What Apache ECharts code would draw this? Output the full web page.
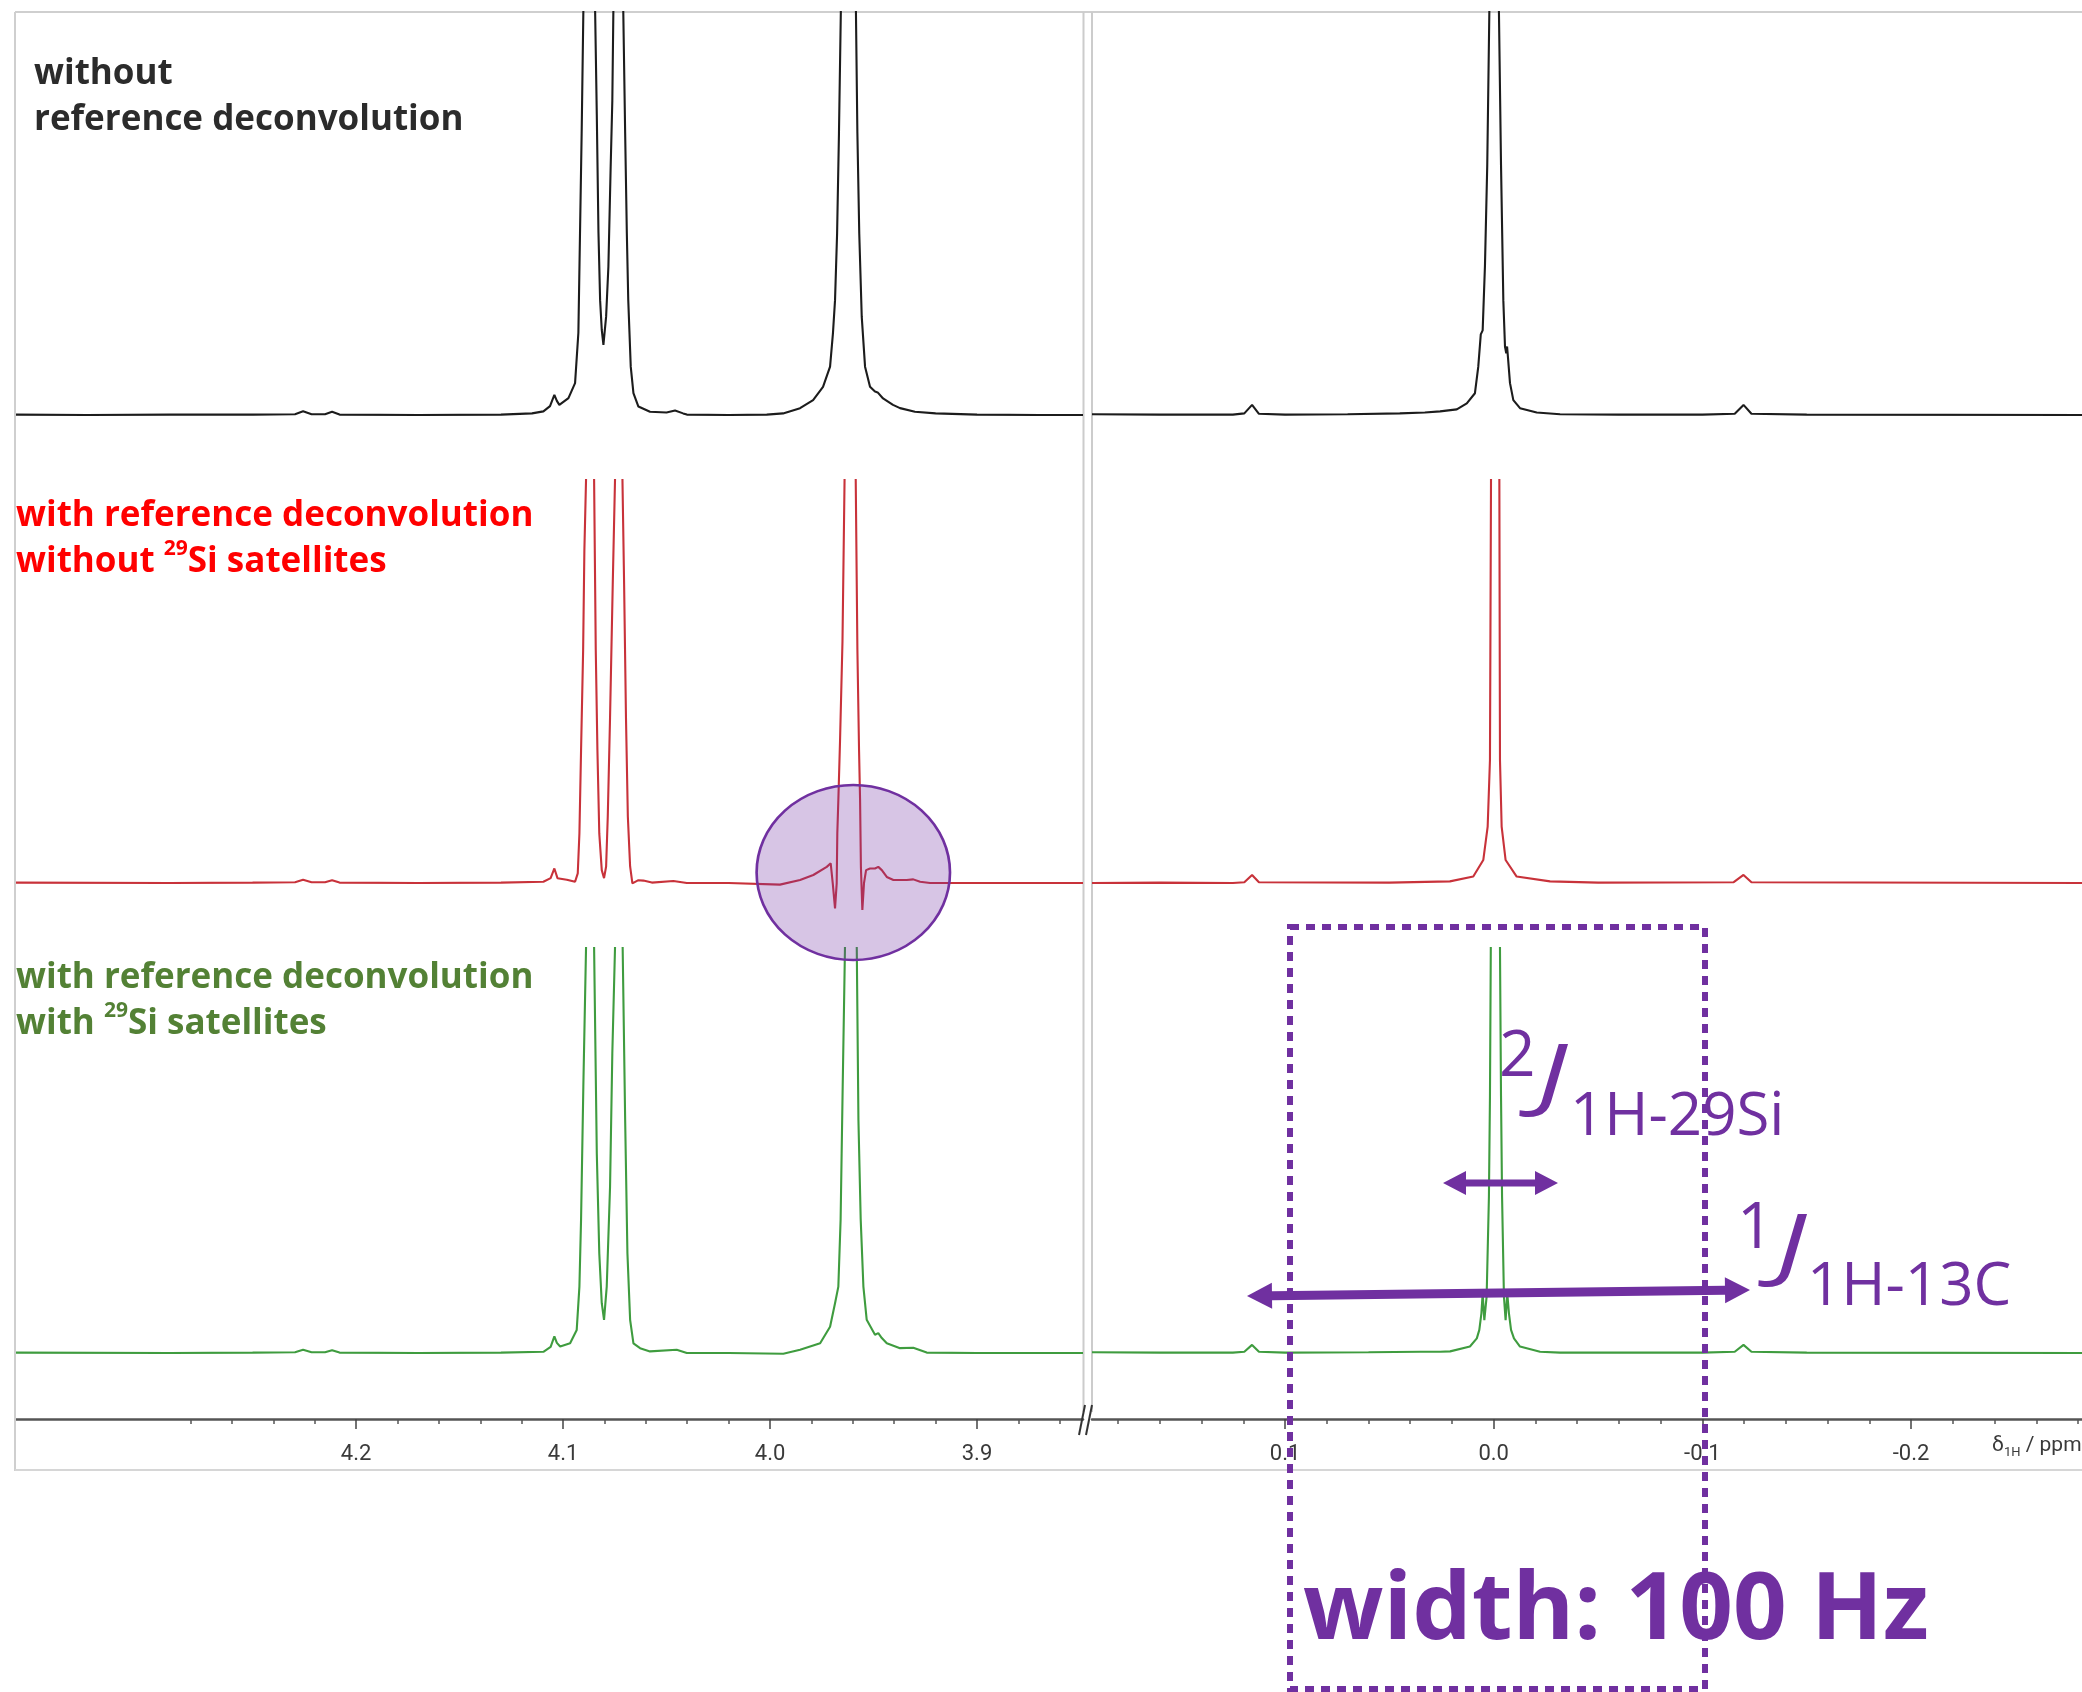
<!DOCTYPE html>
<html><head><meta charset="utf-8">
<script src="https://cdn.jsdelivr.net/npm/echarts@6/dist/echarts.min.js"></script>
<style>html,body{margin:0;padding:0;background:#fff}#c{width:2082px;height:1692px}</style>
</head><body><div id="c"></div>
<script>
// ---- data: [chemical shift (ppm), intensity relative to clip height] ----
const blackLeft = [[4.3643,0.001],[4.33,0.0],[4.29,0.001],[4.25,0.001],[4.2295,0.002],[4.2256,0.009],[4.2215,0.002],[4.2150,0.002],[4.2116,0.008],[4.2080,0.001],[4.17,0.0],[4.13,0.001],[4.1150,0.004],[4.1095,0.009],[4.1063,0.022],[4.1042,0.05],[4.1030,0.035],[4.1018,0.025],[4.0974,0.042],[4.0942,0.079],[4.0926,0.204],[4.0918,0.454],[4.0910,0.704],[4.0902,1.0],[4.0873,2.0],[4.0845,1.0],[4.0837,0.745],[4.0829,0.454],[4.0821,0.285],[4.0813,0.211],[4.0805,0.174],[4.0792,0.244],[4.0781,0.368],[4.0770,0.616],[4.0762,0.78],[4.0757,1.0],[4.0733,2.0],[4.0709,1.0],[4.0700,0.70],[4.0692,0.454],[4.0685,0.285],[4.0673,0.12],[4.0660,0.054],[4.0636,0.021],[4.0580,0.008],[4.0500,0.006],[4.0459,0.011],[4.0420,0.004],[4.0402,0.001],[4.0200,0.0],[4.0016,0.001],[3.9937,0.004],[3.9855,0.017],[3.9792,0.037],[3.9744,0.070],[3.9710,0.12],[3.9696,0.203],[3.9686,0.285],[3.9676,0.451],[3.9667,0.699],[3.9658,1.0],[3.9621,2.5],[3.9585,1.0],[3.9578,0.699],[3.9569,0.451],[3.9557,0.244],[3.9541,0.12],[3.9517,0.07],[3.9493,0.058],[3.9480,0.056],[3.9454,0.041],[3.9406,0.025],[3.9372,0.017],[3.9300,0.008],[3.9200,0.004],[3.9000,0.001],[3.8700,0.0],[3.8488,0.0]];
const blackRight = [[0.1925,0.002],[0.16,0.001],[0.125,0.001],[0.1195,0.004],[0.1158,0.025],[0.1125,0.003],[0.10,0.001],[0.07,0.002],[0.045,0.004],[0.033,0.006],[0.0257,0.009],[0.0177,0.014],[0.0129,0.029],[0.0090,0.054],[0.0074,0.12],[0.0062,0.20],[0.0053,0.21],[0.0042,0.37],[0.0031,0.62],[0.0021,1.0],[-0.0002,3.0],[-0.0025,1.0],[-0.0035,0.62],[-0.0046,0.285],[-0.0054,0.17],[-0.0060,0.153],[-0.0064,0.17],[-0.0068,0.145],[-0.0078,0.079],[-0.0094,0.037],[-0.0126,0.017],[-0.0206,0.006],[-0.0318,0.002],[-0.06,0.001],[-0.10,0.001],[-0.1155,0.003],[-0.1197,0.025],[-0.1235,0.003],[-0.15,0.001],[-0.2819,0.0]];
const redLeft = [[4.3643,0.001],[4.29,0.0],[4.25,0.001],[4.2295,0.002],[4.2256,0.008],[4.2215,0.002],[4.2150,0.002],[4.2116,0.007],[4.2080,0.001],[4.17,0.0],[4.13,0.001],[4.1095,0.003],[4.1060,0.012],[4.1042,0.036],[4.1027,0.012],[4.0982,0.008],[4.0942,0.003],[4.0929,0.024],[4.0921,0.123],[4.0913,0.33],[4.0903,0.578],[4.0897,0.826],[4.0889,1.0],[4.0870,2.0],[4.0850,1.0],[4.0842,0.578],[4.0834,0.33],[4.0825,0.123],[4.0813,0.032],[4.0802,0.012],[4.0792,0.041],[4.0784,0.165],[4.0773,0.41],[4.0760,0.74],[4.0749,1.0],[4.0731,2.0],[4.0713,1.0],[4.0705,0.74],[4.0696,0.41],[4.0687,0.165],[4.0676,0.041],[4.0665,-0.001],[4.0657,-0.005],[4.0636,0.007],[4.0612,0.006],[4.0571,0.001],[4.0467,0.005],[4.0402,0.0],[4.0200,0.0],[3.9952,-0.004],[3.9855,0.0074],[3.9791,0.0198],[3.9726,0.040],[3.9707,0.049],[3.9697,-0.001],[3.9686,-0.063],[3.9678,-0.001],[3.9675,0.123],[3.9670,0.206],[3.9662,0.35],[3.9650,0.6],[3.9640,1.0],[3.9612,2.5],[3.9586,1.0],[3.9578,0.58],[3.9570,0.33],[3.9565,0.206],[3.9561,0.04],[3.9554,-0.067],[3.9546,0.0],[3.9536,0.032],[3.9517,0.036],[3.9493,0.036],[3.9477,0.04],[3.9460,0.032],[3.9436,0.015],[3.9404,0.0074],[3.9340,0.0074],[3.9308,0.009],[3.9275,0.003],[3.9227,0.0],[3.90,0.0],[3.8488,0.0]];
const redRight = [[0.1925,0.0],[0.16,0.001],[0.125,0.0],[0.1195,0.002],[0.1158,0.02],[0.1125,0.002],[0.05,0.001],[0.021,0.004],[0.0098,0.016],[0.005,0.057],[0.0029,0.14],[0.0018,0.305],[0.0013,1.0],[-0.0007,3.0],[-0.0027,1.0],[-0.0030,0.305],[-0.0038,0.14],[-0.0057,0.057],[-0.011,0.016],[-0.027,0.004],[-0.05,0.001],[-0.115,0.002],[-0.1197,0.02],[-0.1235,0.002],[-0.2819,0.0]];
const greenLeft = [[4.3643,0.001],[4.29,0.0],[4.25,0.001],[4.2295,0.002],[4.2256,0.008],[4.2215,0.002],[4.2150,0.002],[4.2116,0.007],[4.2080,0.001],[4.17,0.0],[4.13,0.001],[4.1095,0.003],[4.1060,0.015],[4.1042,0.041],[4.1030,0.025],[4.1014,0.016],[4.0966,0.024],[4.0934,0.057],[4.0921,0.164],[4.0913,0.33],[4.0902,0.658],[4.0889,1.0],[4.0868,2.0],[4.0850,1.0],[4.0837,0.493],[4.0825,0.246],[4.0813,0.123],[4.0802,0.082],[4.0789,0.164],[4.0773,0.41],[4.0762,0.74],[4.0749,1.0],[4.0730,2.0],[4.0712,1.0],[4.0700,0.576],[4.0689,0.246],[4.0676,0.082],[4.0660,0.024],[4.0628,0.012],[4.0580,0.004],[4.0451,0.008],[4.0402,0.0],[4.02,0.0],[3.9936,-0.002],[3.9855,0.008],[3.9758,0.024],[3.9710,0.065],[3.9686,0.123],[3.9670,0.164],[3.9659,0.33],[3.9649,0.658],[3.9638,1.0],[3.9610,2.5],[3.9581,1.0],[3.9573,0.576],[3.9562,0.33],[3.9549,0.164],[3.9533,0.082],[3.9493,0.045],[3.9477,0.049],[3.9460,0.037],[3.9436,0.024],[3.9372,0.012],[3.9308,0.013],[3.9243,0.001],[3.90,0.0],[3.8488,0.0]];
const greenRight = [[0.1925,0.002],[0.16,0.001],[0.125,0.001],[0.1195,0.003],[0.1158,0.02],[0.1125,0.003],[0.10,0.001],[0.06,0.002],[0.035,0.003],[0.0257,0.003],[0.0209,0.004],[0.0114,0.016],[0.0081,0.036],[0.0069,0.057],[0.0059,0.098],[0.0053,0.147],[0.0045,0.081],[0.0034,0.139],[0.0023,0.386],[0.0018,0.633],[0.0014,1.0],[-0.0008,3.0],[-0.0030,1.0],[-0.0035,0.633],[-0.0040,0.386],[-0.0049,0.139],[-0.0057,0.081],[-0.0065,0.147],[-0.0073,0.098],[-0.0083,0.057],[-0.0097,0.036],[-0.0126,0.016],[-0.0222,0.003],[-0.0318,0.001],[-0.06,0.001],[-0.10,0.001],[-0.1155,0.003],[-0.1197,0.02],[-0.1235,0.003],[-0.15,0.001],[-0.2819,0.0]];

// ---- axis ticks / labels ----
const leftMajorTicks = [4.2, 4.1, 4.0, 3.9];
const leftMinorTicks = [4.28,4.26,4.24,4.22,4.18,4.16,4.14,4.12,4.08,4.06,4.04,4.02,3.98,3.96,3.94,3.92,3.88,3.86];
const rightMajorTicks = [0.1, 0.0, -0.1, -0.2];
const rightMinorTicks = [0.18,0.16,0.14,0.12,0.08,0.06,0.04,0.02,-0.02,-0.04,-0.06,-0.08,-0.12,-0.14,-0.16,-0.18,-0.22,-0.24,-0.26,-0.28];
const leftRange = [3.8488, 4.3643];
const rightRange = [-0.2819, 0.1925];

const traceNames = ['without reference deconvolution', 'with reference deconvolution, without 29Si satellites', 'with reference deconvolution, with 29Si satellites'];
const traceColors = ['#1c1c1c', '#c8323a', '#3f9c3f'];
const PURPLE = '#7030a0';

// ---- layout ----
const L = {left: 16, width: 1067};
const R = {left: 1092, width: 990};
const rows = [
  {top: 12, height: 458, min: -0.1365},
  {top: 480, height: 460, min: -0.14144},
  {top: 948, height: 471, min: -0.16296}
];
const grids = [], xAxes = [], yAxes = [], series = [];
const traceData = [[blackLeft, blackRight], [redLeft, redRight], [greenLeft, greenRight]];
const tickFont = {fontFamily: 'Roboto', fontSize: 22, color: '#3a3a3a'};

rows.forEach((row, r) => {
  [L, R].forEach((col, c) => {
    const gi = grids.length;
    grids.push({left: col.left, width: col.width, top: row.top, height: row.height, containLabel: false});
    const range = c === 0 ? leftRange : rightRange;
    const bottom = r === 2;
    xAxes.push({
      type: 'value', gridIndex: gi, min: range[0], max: range[1], inverse: true, position: 'bottom',
      show: bottom, splitLine: {show: false},
      axisLine: {show: bottom, onZero: false, lineStyle: {color: '#555', width: 2.5}},
      axisTick: {show: bottom, length: 10, lineStyle: {color: '#444', width: 1.5},
                 customValues: c === 0 ? leftMajorTicks : rightMajorTicks},
      axisLabel: {show: bottom, margin: 24, ...tickFont,
                  customValues: c === 0 ? leftMajorTicks : rightMajorTicks,
                  formatter: v => v.toFixed(1)}
    });
    yAxes.push({type: 'value', gridIndex: gi, min: row.min, max: 1, show: false, splitLine: {show: false}});
    series.push({
      name: traceNames[r], type: 'line', xAxisIndex: gi, yAxisIndex: gi,
      data: traceData[r][c], showSymbol: false, symbol: 'none', clip: true,
      lineStyle: {color: traceColors[r], width: 2.1}, animation: false, silent: true
    });
  });
});
// minor tick axes on the bottom row
[[4, leftRange, leftMinorTicks], [5, rightRange, rightMinorTicks]].forEach(([gi, range, ticks]) => {
  xAxes.push({
    type: 'value', gridIndex: gi, min: range[0], max: range[1], inverse: true, position: 'bottom',
    splitLine: {show: false}, axisLine: {show: false, onZero: false},
    axisTick: {show: true, length: 5, customValues: ticks, lineStyle: {color: '#555', width: 1.5}},
    axisLabel: {show: false}
  });
});

function arrowPts(x1, y1, x2, y2, t, hl, hh) {
  const dx = x2 - x1, dy = y2 - y1, len = Math.hypot(dx, dy);
  const ux = dx / len, uy = dy / len, nx = -uy, ny = ux;
  const p = (s, n) => [x1 + ux * s + nx * n, y1 + uy * s + ny * n];
  return [p(0, 0), p(hl, hh), p(hl, t / 2), p(len - hl, t / 2), p(len - hl, hh), p(len, 0),
          p(len - hl, -hh), p(len - hl, -t / 2), p(hl, -t / 2), p(hl, -hh)];
}
const lbl = (color) => ({
  m: {fontFamily: 'Open Sans', fontWeight: 'bold', fontSize: 35, lineHeight: 46, fill: color},
  s: {fontFamily: 'Open Sans', fontWeight: 'bold', fontSize: 21, lineHeight: 32, verticalAlign: 'top', fill: color}
});
const ptxt = (x, y, text, size, extra, scaleX) => ({
  type: 'text', x: x, y: y, z: 120, scaleX: scaleX || 1,
  style: Object.assign({text: text, fontFamily: 'Open Sans', fontSize: size, fill: PURPLE,
                        align: 'left', verticalAlign: 'middle'}, extra || {})
});

const graphic = [
  // frame
  {type: 'line', z: 1, shape: {x1: 15, y1: 12, x2: 2082, y2: 12}, style: {stroke: '#cfcfcf', lineWidth: 2}},
  {type: 'line', z: 1, shape: {x1: 15, y1: 12, x2: 15, y2: 1471}, style: {stroke: '#cfcfcf', lineWidth: 2}},
  {type: 'line', z: 1, shape: {x1: 15, y1: 1470, x2: 2082, y2: 1470}, style: {stroke: '#d6d6d6', lineWidth: 2}},
  // panel dividers
  {type: 'line', z: 1, shape: {x1: 1083.5, y1: 12, x2: 1083.5, y2: 1412}, style: {stroke: '#cccccc', lineWidth: 2}},
  {type: 'line', z: 1, shape: {x1: 1092, y1: 12, x2: 1092, y2: 1412}, style: {stroke: '#cccccc', lineWidth: 2}},
  // axis break marks
  {type: 'line', z: 50, shape: {x1: 1079, y1: 1435, x2: 1085, y2: 1405}, style: {stroke: '#333', lineWidth: 2}},
  {type: 'line', z: 50, shape: {x1: 1086, y1: 1435, x2: 1092, y2: 1405}, style: {stroke: '#333', lineWidth: 2}},
  // axis name
  {type: 'text', x: 1992, y: 1446, z: 50, style: {
    text: '{a|δ}{b|1H}{a| / ppm}', align: 'left', verticalAlign: 'middle',
    rich: {a: {fontFamily: 'Roboto', fontSize: 21, fill: '#3a3a3a', lineHeight: 26},
           b: {fontFamily: 'Roboto', fontSize: 13, fill: '#3a3a3a', lineHeight: 18, verticalAlign: 'bottom'}}}},
  // trace labels
  {type: 'text', x: 34, y: 51, z: 60, style: {text: '{m|without}\n{m|reference deconvolution}', align: 'left', verticalAlign: 'top', rich: lbl('#2b2b2b')}},
  {type: 'text', x: 16, y: 493, z: 60, style: {text: '{m|with reference deconvolution}\n{m|without }{s|29}{m|Si satellites}', align: 'left', verticalAlign: 'top', rich: lbl('#ff0000')}},
  {type: 'text', x: 16, y: 955, z: 60, style: {text: '{m|with reference deconvolution}\n{m|with }{s|29}{m|Si satellites}', align: 'left', verticalAlign: 'top', rich: lbl('#538135')}},
  // highlighted artefact
  {type: 'circle', x: 853.3, y: 872.5, scaleX: 96.7 / 87.5, z: 100,
   shape: {cx: 0, cy: 0, r: 87.5}, style: {fill: 'rgba(112,48,160,0.28)', stroke: PURPLE, lineWidth: 2.4}},
  // dotted window
  {type: 'rect', z: 110, shape: {x: 1290, y: 927, width: 415, height: 762},
   style: {fill: 'none', stroke: PURPLE, lineWidth: 6, lineDash: [9, 7]}},
  // coupling arrows
  {type: 'polygon', z: 115, shape: {points: arrowPts(1443, 1183, 1558, 1183, 7, 23, 12)}, style: {fill: PURPLE}},
  {type: 'polygon', z: 115, shape: {points: arrowPts(1247, 1296, 1750, 1290, 9, 25, 13)}, style: {fill: PURPLE}},
  // J labels
  ptxt(1499, 1058, '2', 64),
  ptxt(1537, 1079, 'J', 80, {fontStyle: 'italic'}, 1.4),
  ptxt(1570, 1118, '1H-29Si', 60),
  ptxt(1737, 1230, '1', 64),
  ptxt(1776, 1249, 'J', 80, {fontStyle: 'italic'}, 1.4),
  ptxt(1807, 1288, '1H-13C', 60),
  // width text
  ptxt(1303, 1612, 'width: 100 Hz', 94, {fontWeight: 'bold'})
];

const chart = echarts.init(document.getElementById('c'), null, {renderer: 'canvas'});
chart.setOption({
  backgroundColor: '#ffffff',
  animation: false,
  grid: grids, xAxis: xAxes, yAxis: yAxes, series: series,
  graphic: graphic
});
</script></body></html>
